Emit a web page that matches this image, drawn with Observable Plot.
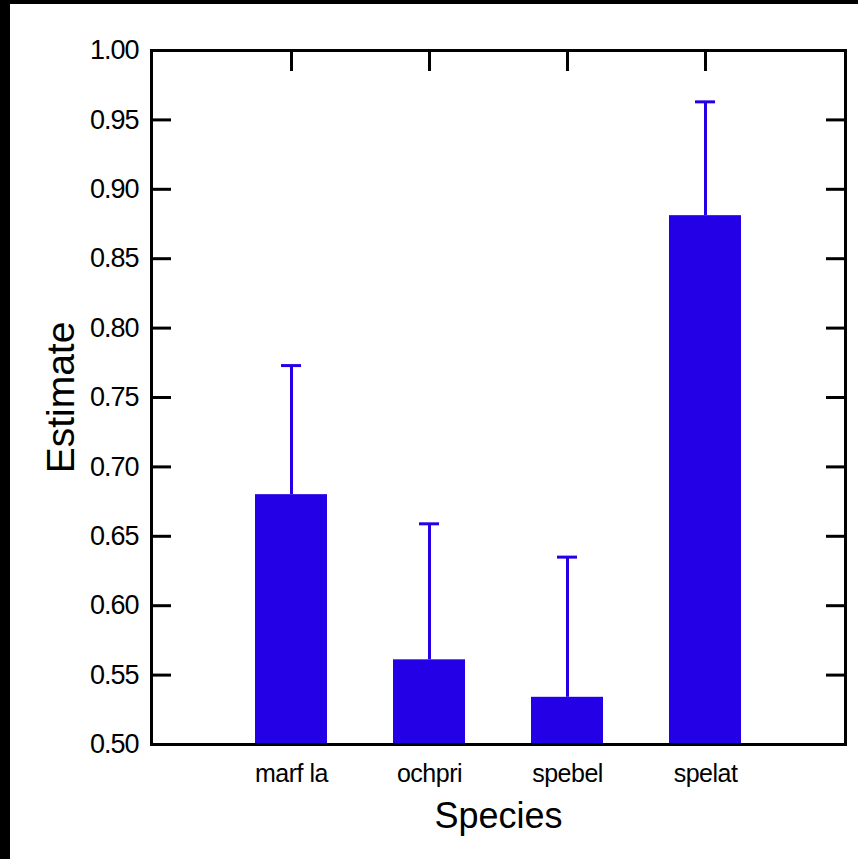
<!DOCTYPE html>
<html>
<head>
<meta charset="utf-8">
<script src="https://cdn.jsdelivr.net/npm/d3@7"></script>
<script src="https://cdn.jsdelivr.net/npm/@observablehq/plot@0.6"></script>
<style>
  html, body { margin: 0; padding: 0; background: #fff; }
  #wrap { position: relative; width: 858px; height: 859px; overflow: hidden; }
  #wrap svg { position: absolute; left: 0; top: 0; }
  .bar-top { position: absolute; left: 0; top: 0; width: 858px; height: 4px; background: #000; }
  .bar-left { position: absolute; left: 0; top: 0; width: 10px; height: 859px; background: #000; }
  g[aria-label="y-axis tick label"] text { letter-spacing: -1px; }
  g[aria-label="x-axis tick label"] text { letter-spacing: -0.5px; }
</style>
</head>
<body>
<div id="wrap"></div>
<script>
const species = ["marf la", "ochpri", "spebel", "spelat"];
const estimate = [0.680, 0.561, 0.534, 0.881];
const upper = [0.773, 0.659, 0.635, 0.963];
const yTicks = [0.50, 0.55, 0.60, 0.65, 0.70, 0.75, 0.80, 0.85, 0.90, 0.95, 1.00];

const data = species.map((s, i) => ({species: s, estimate: estimate[i], upper: upper[i]}));
const barColor = "#2300e6";
const blank = () => "";

const chart = Plot.plot({
  width: 858,
  height: 859,
  marginLeft: 151,
  marginRight: 13,
  marginTop: 50,
  marginBottom: 115,
  style: {fontFamily: "'Liberation Sans', Arial, sans-serif", background: "transparent", color: "#000"},
  x: {domain: species, paddingInner: 0.48, paddingOuter: 0.74, label: null},
  y: {domain: [0.5, 1.0], label: null},
  marks: [
    Plot.axisY({ticks: yTicks, tickFormat: d3.format(".2f"), tickSize: -20, tickPadding: 33, strokeWidth: 3, fontSize: 27, label: null}),
    Plot.axisY({anchor: "right", ticks: yTicks, tickFormat: blank, tickSize: -20, strokeWidth: 3, label: null}),
    Plot.axisX({anchor: "top", tickSize: -20, tickFormat: blank, strokeWidth: 3, label: null}),
    Plot.axisX({anchor: "bottom", tickSize: 0, tickPadding: 20, fontSize: 25, label: null}),
    Plot.ruleX(data, {x: "species", y1: "estimate", y2: "upper", stroke: barColor, strokeWidth: 3}),
    Plot.tickY(data, {x: "species", y: "upper", stroke: barColor, strokeWidth: 3, insetLeft: 26, insetRight: 26}),
    Plot.barY(data, {x: "species", y1: 0.5, y2: "estimate", fill: barColor}),
    Plot.frame({stroke: "#000", strokeWidth: 3}),
    Plot.text(["Estimate"], {frameAnchor: "left", dx: -78, rotate: -90, textAnchor: "middle", lineAnchor: "bottom", fontSize: 39}),
    Plot.text(["Species"], {frameAnchor: "bottom", dy: 83, textAnchor: "middle", lineAnchor: "bottom", fontSize: 36})
  ]
});

const wrap = document.getElementById("wrap");
wrap.appendChild(chart);
const t = document.createElement("div"); t.className = "bar-top"; wrap.appendChild(t);
const l = document.createElement("div"); l.className = "bar-left"; wrap.appendChild(l);
</script>
</body>
</html>
